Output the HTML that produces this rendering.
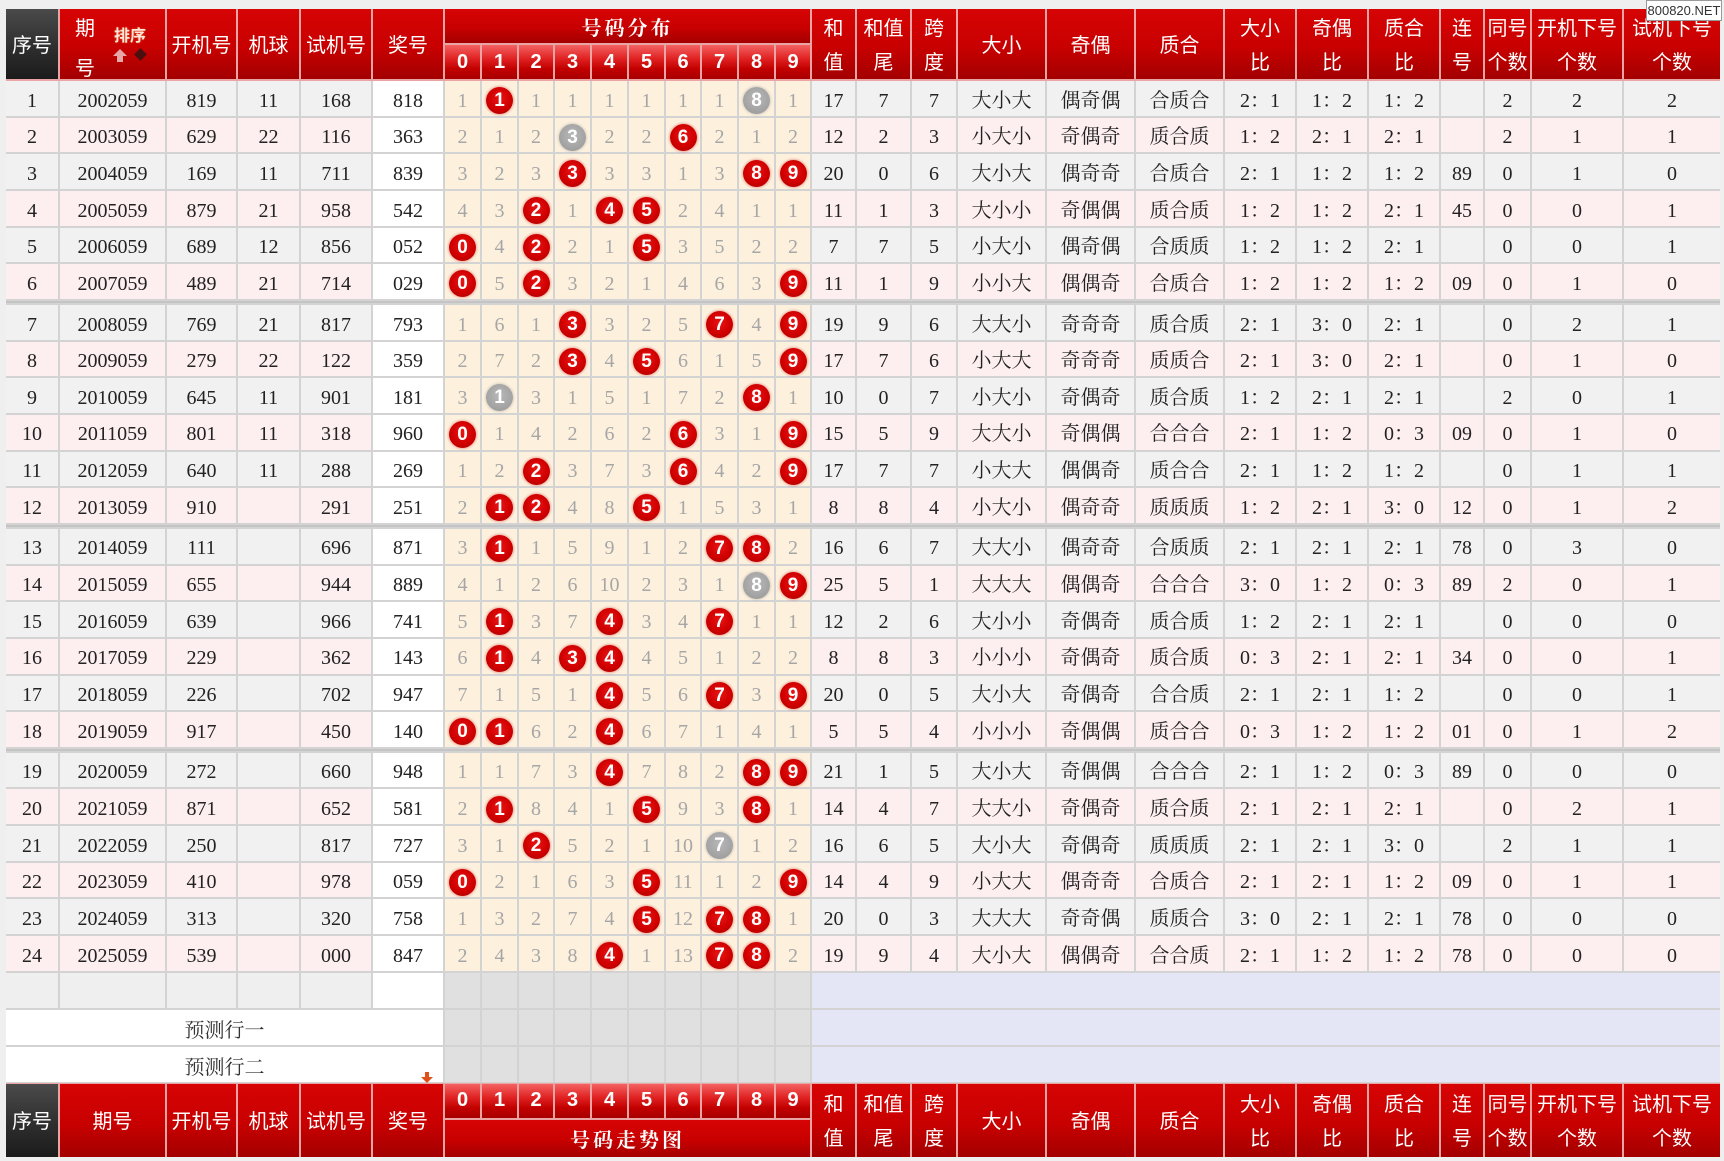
<!DOCTYPE html>
<html><head><meta charset="utf-8">
<style>
*{box-sizing:border-box}
body{margin:0;background:#efefef;width:1724px;height:1161px;overflow:hidden;position:relative;font-family:"Liberation Serif","Noto Serif CJK SC",serif}
#g{position:absolute;left:6px;top:9px;width:1714px;display:grid;
grid-template-columns:52px 105px 69px 61px 70px 70px 35px 35px 34px 35px 35px 35px 34px 35px 35px 34px 43px 53px 44px 87px 87px 87px 70px 70px 70px 42px 45px 90px 96px;
grid-template-rows:34px 34px repeat(6,34.67px) 2px repeat(6,34.67px) 2px repeat(6,34.67px) 2px repeat(6,34.67px) 35.67px 34.67px 34.67px 34px 37px;
gap:2px;
background:linear-gradient(to bottom,#eaa4a4 0px,#eaa4a4 72px,#d3d3d3 72px,#d3d3d3 1074px,#eaa4a4 1074px)}
.h{background:linear-gradient(to bottom,#d70404 0%,#c80000 55%,#a30000 100%);color:#fff;font:20px/34px "Noto Sans CJK SC","Liberation Sans",sans-serif;display:flex;align-items:center;justify-content:center;text-align:center}
.s2{grid-row:span 2}
.dk{background:linear-gradient(to bottom,#4a4a4a 0%,#2c2c2c 60%,#1b1b1b 100%)}
.dh{background:linear-gradient(to bottom,#f46262 0%,#e02222 40%,#c20000 70%,#a80000 100%);color:#fff;font:bold 20px "Liberation Sans",sans-serif;display:flex;align-items:center;justify-content:center}
.t{grid-column:span 10;font:bold 20px "Noto Serif CJK SC","Noto Sans CJK SC",serif;letter-spacing:3px}
.sep{grid-column:1/-1;background:#c4c4c4}
.r{display:contents}
.r>div{display:flex;align-items:center;justify-content:center;color:#222;font-size:20px;line-height:22px;padding-top:4.5px}
.o>div{background:#f1f1f1}
.e>div{background:#fdeef0}
.r>div:nth-child(6){background:#fff}
.r>div:nth-child(n+7):nth-child(-n+16){background:#fdf1de;color:#a6a6a6}
.r b{display:block;width:27px;height:27px;border-radius:50%;background:radial-gradient(circle at 50% 42%,#e81414 0%,#d00000 55%,#a40000 100%);color:#fff;font:bold 19px/27px "Liberation Sans",sans-serif;text-align:center;box-shadow:0 0 2px 1px rgba(200,0,0,.3)}
.r b.k{background:radial-gradient(circle at 50% 42%,#b8b8b8 0%,#a4a4a4 60%,#949494 100%);box-shadow:0 0 2px 1px rgba(150,150,150,.35)}
.bl{display:contents}
.bl>div{background:#efefef}
.bl>.w{background:#fff}
.z,.bl>.z{background:#e0e0e0}
.lv,.bl>.lv{grid-column:span 13;background:#e4e5f5}
.pl{grid-column:span 6;background:#fff;display:flex;align-items:center;justify-content:center;font-size:20px;color:#333;padding-top:2px}
.qh{grid-row:span 2;position:relative;background:linear-gradient(to bottom,#d70404 0%,#c80000 55%,#a30000 100%);color:#fff;font:20px/20px "Noto Sans CJK SC",sans-serif}
</style></head><body>
<div id="g">
<div class="h dk s2">序号</div>
<div class="qh"><span style="position:absolute;left:15px;top:8px">期</span><span style="position:absolute;left:15px;top:48px">号</span><span style="position:absolute;left:54px;top:17px;font:bold 16px/16px 'Noto Sans CJK SC',sans-serif;color:#ffe6d8;text-shadow:0 0 2px #e05020">排序</span><span style="position:absolute;left:53px;top:40px;width:0;height:0;border-left:7px solid transparent;border-right:7px solid transparent;border-bottom:7px solid #e8a8a8"></span><span style="position:absolute;left:57px;top:47px;width:6px;height:6px;background:#e8a8a8"></span><span style="position:absolute;left:76px;top:41px;width:9px;height:9px;background:#4a1010;transform:rotate(45deg)"></span></div>
<div class="h s2">开机号</div>
<div class="h s2">机球</div>
<div class="h s2">试机号</div>
<div class="h s2">奖号</div>
<div class="h t">号码分布</div>
<div class="h s2">和<br>值</div>
<div class="h s2">和值<br>尾</div>
<div class="h s2">跨<br>度</div>
<div class="h s2">大小</div>
<div class="h s2">奇偶</div>
<div class="h s2">质合</div>
<div class="h s2">大小<br>比</div>
<div class="h s2">奇偶<br>比</div>
<div class="h s2">质合<br>比</div>
<div class="h s2">连<br>号</div>
<div class="h s2">同号<br>个数</div>
<div class="h s2">开机下号<br>个数</div>
<div class="h s2">试机下号<br>个数</div>
<div class="dh">0</div><div class="dh">1</div><div class="dh">2</div><div class="dh">3</div><div class="dh">4</div><div class="dh">5</div><div class="dh">6</div><div class="dh">7</div><div class="dh">8</div><div class="dh">9</div>

<div class="r o"><div>1</div><div>2002059</div><div>819</div><div>11</div><div>168</div><div>818</div><div>1</div><div><b>1</b></div><div>1</div><div>1</div><div>1</div><div>1</div><div>1</div><div>1</div><div><b class="k">8</b></div><div>1</div><div>17</div><div>7</div><div>7</div><div>大小大</div><div>偶奇偶</div><div>合质合</div><div>2：1</div><div>1：2</div><div>1：2</div><div></div><div>2</div><div>2</div><div>2</div></div>
<div class="r e"><div>2</div><div>2003059</div><div>629</div><div>22</div><div>116</div><div>363</div><div>2</div><div>1</div><div>2</div><div><b class="k">3</b></div><div>2</div><div>2</div><div><b>6</b></div><div>2</div><div>1</div><div>2</div><div>12</div><div>2</div><div>3</div><div>小大小</div><div>奇偶奇</div><div>质合质</div><div>1：2</div><div>2：1</div><div>2：1</div><div></div><div>2</div><div>1</div><div>1</div></div>
<div class="r o"><div>3</div><div>2004059</div><div>169</div><div>11</div><div>711</div><div>839</div><div>3</div><div>2</div><div>3</div><div><b>3</b></div><div>3</div><div>3</div><div>1</div><div>3</div><div><b>8</b></div><div><b>9</b></div><div>20</div><div>0</div><div>6</div><div>大小大</div><div>偶奇奇</div><div>合质合</div><div>2：1</div><div>1：2</div><div>1：2</div><div>89</div><div>0</div><div>1</div><div>0</div></div>
<div class="r e"><div>4</div><div>2005059</div><div>879</div><div>21</div><div>958</div><div>542</div><div>4</div><div>3</div><div><b>2</b></div><div>1</div><div><b>4</b></div><div><b>5</b></div><div>2</div><div>4</div><div>1</div><div>1</div><div>11</div><div>1</div><div>3</div><div>大小小</div><div>奇偶偶</div><div>质合质</div><div>1：2</div><div>1：2</div><div>2：1</div><div>45</div><div>0</div><div>0</div><div>1</div></div>
<div class="r o"><div>5</div><div>2006059</div><div>689</div><div>12</div><div>856</div><div>052</div><div><b>0</b></div><div>4</div><div><b>2</b></div><div>2</div><div>1</div><div><b>5</b></div><div>3</div><div>5</div><div>2</div><div>2</div><div>7</div><div>7</div><div>5</div><div>小大小</div><div>偶奇偶</div><div>合质质</div><div>1：2</div><div>1：2</div><div>2：1</div><div></div><div>0</div><div>0</div><div>1</div></div>
<div class="r e"><div>6</div><div>2007059</div><div>489</div><div>21</div><div>714</div><div>029</div><div><b>0</b></div><div>5</div><div><b>2</b></div><div>3</div><div>2</div><div>1</div><div>4</div><div>6</div><div>3</div><div><b>9</b></div><div>11</div><div>1</div><div>9</div><div>小小大</div><div>偶偶奇</div><div>合质合</div><div>1：2</div><div>1：2</div><div>1：2</div><div>09</div><div>0</div><div>1</div><div>0</div></div>
<div class="sep" style="grid-row:9"></div>
<div class="r o"><div>7</div><div>2008059</div><div>769</div><div>21</div><div>817</div><div>793</div><div>1</div><div>6</div><div>1</div><div><b>3</b></div><div>3</div><div>2</div><div>5</div><div><b>7</b></div><div>4</div><div><b>9</b></div><div>19</div><div>9</div><div>6</div><div>大大小</div><div>奇奇奇</div><div>质合质</div><div>2：1</div><div>3：0</div><div>2：1</div><div></div><div>0</div><div>2</div><div>1</div></div>
<div class="r e"><div>8</div><div>2009059</div><div>279</div><div>22</div><div>122</div><div>359</div><div>2</div><div>7</div><div>2</div><div><b>3</b></div><div>4</div><div><b>5</b></div><div>6</div><div>1</div><div>5</div><div><b>9</b></div><div>17</div><div>7</div><div>6</div><div>小大大</div><div>奇奇奇</div><div>质质合</div><div>2：1</div><div>3：0</div><div>2：1</div><div></div><div>0</div><div>1</div><div>0</div></div>
<div class="r o"><div>9</div><div>2010059</div><div>645</div><div>11</div><div>901</div><div>181</div><div>3</div><div><b class="k">1</b></div><div>3</div><div>1</div><div>5</div><div>1</div><div>7</div><div>2</div><div><b>8</b></div><div>1</div><div>10</div><div>0</div><div>7</div><div>小大小</div><div>奇偶奇</div><div>质合质</div><div>1：2</div><div>2：1</div><div>2：1</div><div></div><div>2</div><div>0</div><div>1</div></div>
<div class="r e"><div>10</div><div>2011059</div><div>801</div><div>11</div><div>318</div><div>960</div><div><b>0</b></div><div>1</div><div>4</div><div>2</div><div>6</div><div>2</div><div><b>6</b></div><div>3</div><div>1</div><div><b>9</b></div><div>15</div><div>5</div><div>9</div><div>大大小</div><div>奇偶偶</div><div>合合合</div><div>2：1</div><div>1：2</div><div>0：3</div><div>09</div><div>0</div><div>1</div><div>0</div></div>
<div class="r o"><div>11</div><div>2012059</div><div>640</div><div>11</div><div>288</div><div>269</div><div>1</div><div>2</div><div><b>2</b></div><div>3</div><div>7</div><div>3</div><div><b>6</b></div><div>4</div><div>2</div><div><b>9</b></div><div>17</div><div>7</div><div>7</div><div>小大大</div><div>偶偶奇</div><div>质合合</div><div>2：1</div><div>1：2</div><div>1：2</div><div></div><div>0</div><div>1</div><div>1</div></div>
<div class="r e"><div>12</div><div>2013059</div><div>910</div><div></div><div>291</div><div>251</div><div>2</div><div><b>1</b></div><div><b>2</b></div><div>4</div><div>8</div><div><b>5</b></div><div>1</div><div>5</div><div>3</div><div>1</div><div>8</div><div>8</div><div>4</div><div>小大小</div><div>偶奇奇</div><div>质质质</div><div>1：2</div><div>2：1</div><div>3：0</div><div>12</div><div>0</div><div>1</div><div>2</div></div>
<div class="sep" style="grid-row:16"></div>
<div class="r o"><div>13</div><div>2014059</div><div>111</div><div></div><div>696</div><div>871</div><div>3</div><div><b>1</b></div><div>1</div><div>5</div><div>9</div><div>1</div><div>2</div><div><b>7</b></div><div><b>8</b></div><div>2</div><div>16</div><div>6</div><div>7</div><div>大大小</div><div>偶奇奇</div><div>合质质</div><div>2：1</div><div>2：1</div><div>2：1</div><div>78</div><div>0</div><div>3</div><div>0</div></div>
<div class="r e"><div>14</div><div>2015059</div><div>655</div><div></div><div>944</div><div>889</div><div>4</div><div>1</div><div>2</div><div>6</div><div>10</div><div>2</div><div>3</div><div>1</div><div><b class="k">8</b></div><div><b>9</b></div><div>25</div><div>5</div><div>1</div><div>大大大</div><div>偶偶奇</div><div>合合合</div><div>3：0</div><div>1：2</div><div>0：3</div><div>89</div><div>2</div><div>0</div><div>1</div></div>
<div class="r o"><div>15</div><div>2016059</div><div>639</div><div></div><div>966</div><div>741</div><div>5</div><div><b>1</b></div><div>3</div><div>7</div><div><b>4</b></div><div>3</div><div>4</div><div><b>7</b></div><div>1</div><div>1</div><div>12</div><div>2</div><div>6</div><div>大小小</div><div>奇偶奇</div><div>质合质</div><div>1：2</div><div>2：1</div><div>2：1</div><div></div><div>0</div><div>0</div><div>0</div></div>
<div class="r e"><div>16</div><div>2017059</div><div>229</div><div></div><div>362</div><div>143</div><div>6</div><div><b>1</b></div><div>4</div><div><b>3</b></div><div><b>4</b></div><div>4</div><div>5</div><div>1</div><div>2</div><div>2</div><div>8</div><div>8</div><div>3</div><div>小小小</div><div>奇偶奇</div><div>质合质</div><div>0：3</div><div>2：1</div><div>2：1</div><div>34</div><div>0</div><div>0</div><div>1</div></div>
<div class="r o"><div>17</div><div>2018059</div><div>226</div><div></div><div>702</div><div>947</div><div>7</div><div>1</div><div>5</div><div>1</div><div><b>4</b></div><div>5</div><div>6</div><div><b>7</b></div><div>3</div><div><b>9</b></div><div>20</div><div>0</div><div>5</div><div>大小大</div><div>奇偶奇</div><div>合合质</div><div>2：1</div><div>2：1</div><div>1：2</div><div></div><div>0</div><div>0</div><div>1</div></div>
<div class="r e"><div>18</div><div>2019059</div><div>917</div><div></div><div>450</div><div>140</div><div><b>0</b></div><div><b>1</b></div><div>6</div><div>2</div><div><b>4</b></div><div>6</div><div>7</div><div>1</div><div>4</div><div>1</div><div>5</div><div>5</div><div>4</div><div>小小小</div><div>奇偶偶</div><div>质合合</div><div>0：3</div><div>1：2</div><div>1：2</div><div>01</div><div>0</div><div>1</div><div>2</div></div>
<div class="sep" style="grid-row:23"></div>
<div class="r o"><div>19</div><div>2020059</div><div>272</div><div></div><div>660</div><div>948</div><div>1</div><div>1</div><div>7</div><div>3</div><div><b>4</b></div><div>7</div><div>8</div><div>2</div><div><b>8</b></div><div><b>9</b></div><div>21</div><div>1</div><div>5</div><div>大小大</div><div>奇偶偶</div><div>合合合</div><div>2：1</div><div>1：2</div><div>0：3</div><div>89</div><div>0</div><div>0</div><div>0</div></div>
<div class="r e"><div>20</div><div>2021059</div><div>871</div><div></div><div>652</div><div>581</div><div>2</div><div><b>1</b></div><div>8</div><div>4</div><div>1</div><div><b>5</b></div><div>9</div><div>3</div><div><b>8</b></div><div>1</div><div>14</div><div>4</div><div>7</div><div>大大小</div><div>奇偶奇</div><div>质合质</div><div>2：1</div><div>2：1</div><div>2：1</div><div></div><div>0</div><div>2</div><div>1</div></div>
<div class="r o"><div>21</div><div>2022059</div><div>250</div><div></div><div>817</div><div>727</div><div>3</div><div>1</div><div><b>2</b></div><div>5</div><div>2</div><div>1</div><div>10</div><div><b class="k">7</b></div><div>1</div><div>2</div><div>16</div><div>6</div><div>5</div><div>大小大</div><div>奇偶奇</div><div>质质质</div><div>2：1</div><div>2：1</div><div>3：0</div><div></div><div>2</div><div>1</div><div>1</div></div>
<div class="r e"><div>22</div><div>2023059</div><div>410</div><div></div><div>978</div><div>059</div><div><b>0</b></div><div>2</div><div>1</div><div>6</div><div>3</div><div><b>5</b></div><div>11</div><div>1</div><div>2</div><div><b>9</b></div><div>14</div><div>4</div><div>9</div><div>小大大</div><div>偶奇奇</div><div>合质合</div><div>2：1</div><div>2：1</div><div>1：2</div><div>09</div><div>0</div><div>1</div><div>1</div></div>
<div class="r o"><div>23</div><div>2024059</div><div>313</div><div></div><div>320</div><div>758</div><div>1</div><div>3</div><div>2</div><div>7</div><div>4</div><div><b>5</b></div><div>12</div><div><b>7</b></div><div><b>8</b></div><div>1</div><div>20</div><div>0</div><div>3</div><div>大大大</div><div>奇奇偶</div><div>质质合</div><div>3：0</div><div>2：1</div><div>2：1</div><div>78</div><div>0</div><div>0</div><div>0</div></div>
<div class="r e"><div>24</div><div>2025059</div><div>539</div><div></div><div>000</div><div>847</div><div>2</div><div>4</div><div>3</div><div>8</div><div><b>4</b></div><div>1</div><div>13</div><div><b>7</b></div><div><b>8</b></div><div>2</div><div>19</div><div>9</div><div>4</div><div>大小大</div><div>偶偶奇</div><div>合合质</div><div>2：1</div><div>1：2</div><div>1：2</div><div>78</div><div>0</div><div>0</div><div>0</div></div>

<div class="bl"><div></div><div></div><div></div><div></div><div></div><div class="w"></div><div class="z"></div><div class="z"></div><div class="z"></div><div class="z"></div><div class="z"></div><div class="z"></div><div class="z"></div><div class="z"></div><div class="z"></div><div class="z"></div><div class="lv"></div></div>
<div class="pl">预测行一</div><div class="z"></div><div class="z"></div><div class="z"></div><div class="z"></div><div class="z"></div><div class="z"></div><div class="z"></div><div class="z"></div><div class="z"></div><div class="z"></div><div class="lv"></div>
<div class="pl">预测行二</div><div class="z"></div><div class="z"></div><div class="z"></div><div class="z"></div><div class="z"></div><div class="z"></div><div class="z"></div><div class="z"></div><div class="z"></div><div class="z"></div><div class="lv"></div>

<div class="h dk s2">序号</div>
<div class="h s2">期号</div>
<div class="h s2">开机号</div>
<div class="h s2">机球</div>
<div class="h s2">试机号</div>
<div class="h s2">奖号</div>
<div class="dh">0</div><div class="dh">1</div><div class="dh">2</div><div class="dh">3</div><div class="dh">4</div><div class="dh">5</div><div class="dh">6</div><div class="dh">7</div><div class="dh">8</div><div class="dh">9</div>
<div class="h s2">和<br>值</div>
<div class="h s2">和值<br>尾</div>
<div class="h s2">跨<br>度</div>
<div class="h s2">大小</div>
<div class="h s2">奇偶</div>
<div class="h s2">质合</div>
<div class="h s2">大小<br>比</div>
<div class="h s2">奇偶<br>比</div>
<div class="h s2">质合<br>比</div>
<div class="h s2">连<br>号</div>
<div class="h s2">同号<br>个数</div>
<div class="h s2">开机下号<br>个数</div>
<div class="h s2">试机下号<br>个数</div>
<div class="h t">号码走势图</div>
</div>

<div style="position:absolute;left:425px;top:1072px;width:4px;height:5px;background:#e0501a"></div>
<div style="position:absolute;left:421px;top:1077px;width:0;height:0;border-left:6px solid transparent;border-right:6px solid transparent;border-top:6px solid #e0501a"></div>

<div style="position:absolute;left:1646px;top:0;width:76px;height:21px;background:#fff;border:1px solid #9a9a9a;font:13px/19px 'Liberation Sans',sans-serif;color:#333;text-align:center">800820.NET</div>
</body></html>
